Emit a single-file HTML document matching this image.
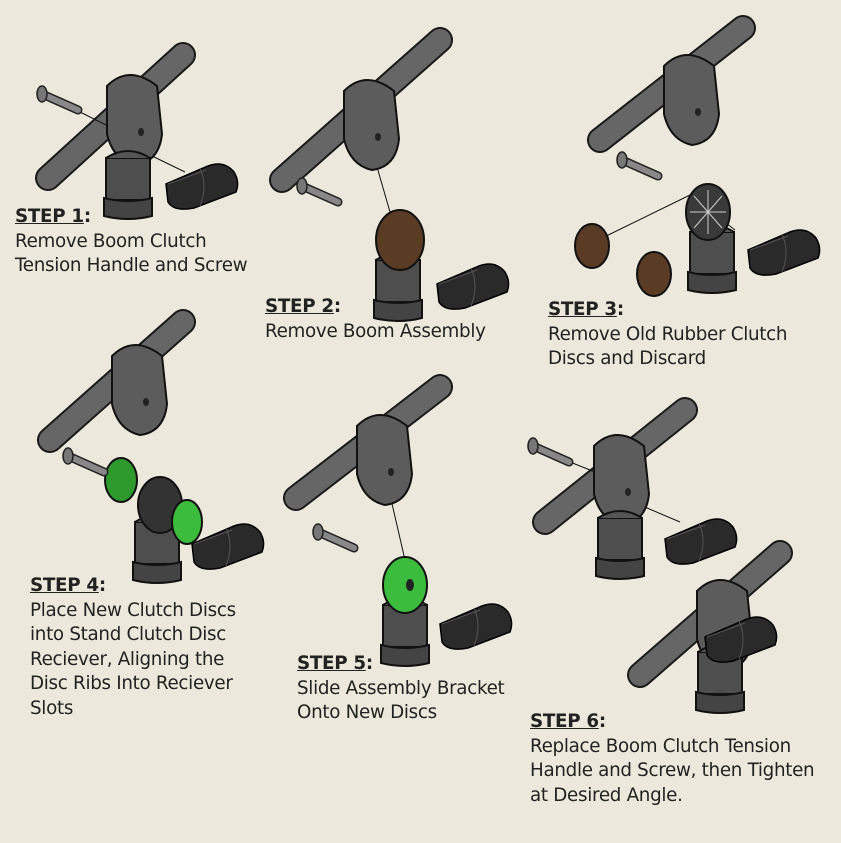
<!DOCTYPE html>
<html><head><style>
body{margin:0;background:#ECE9DC;}
#w{position:relative;width:841px;height:843px;overflow:hidden;background:#ECE9DC;font-family:"DejaVu Sans","Liberation Sans",sans-serif;font-size:18.3px;color:#222;}
.t{position:absolute;line-height:24.5px;white-space:nowrap;letter-spacing:-0.3px}
.t b{font-weight:bold}
.t u{text-decoration:underline}
svg{position:absolute;left:0;top:0}
</style></head><body><div id="w">
<svg width="841" height="843" viewBox="0 0 841 843">
<defs>
<g id="hnd"><path d="M0,22 L42,4 Q58,-2 68,10 Q74,20 70,30 L28,46 Q8,50 2,40 Z" fill="#2a2a2a" stroke="#000" stroke-width="1.5"/><path d="M34,6 Q42,24 34,44" fill="none" stroke="#555" stroke-width="1"/><path d="M2,22 L40,8" stroke="#555" stroke-width="1"/></g>
<g id="scr"><line x1="0" y1="0" x2="36" y2="16" stroke="#222" stroke-width="9" stroke-linecap="round"/><line x1="0" y1="0" x2="36" y2="16" stroke="#888" stroke-width="6" stroke-linecap="round"/><ellipse cx="0" cy="0" rx="5" ry="8" fill="#777" stroke="#222" stroke-width="1.5"/></g>
<g id="brk"><path d="M-28,-36 Q-6,-58 22,-36 L27,12 Q24,40 0,43 Q-22,38 -28,12 Z" fill="#5c5c5c" stroke="#111" stroke-width="2"/><ellipse cx="6" cy="10" rx="3" ry="4" fill="#222"/></g>
<g id="std"><path d="M-22,0 L-22,42 L22,42 L22,0 Z" fill="#4e4e4e" stroke="#111" stroke-width="2"/><path d="M-24,40 L-24,58 Q0,64 24,58 L24,40 Q0,46 -24,40Z" fill="#444" stroke="#111" stroke-width="2"/><path d="M-22,0 Q0,-14 22,0" fill="#555" stroke="#111" stroke-width="2"/></g>
</defs>
<g stroke-linecap="round">
<line x1="48" y1="178" x2="183" y2="55" stroke="#1a1a1a" stroke-width="26"/><line x1="48" y1="178" x2="183" y2="55" stroke="#666" stroke-width="22"/>
<line x1="282" y1="180" x2="440" y2="40" stroke="#1a1a1a" stroke-width="26"/><line x1="282" y1="180" x2="440" y2="40" stroke="#666" stroke-width="22"/>
<line x1="600" y1="140" x2="743" y2="28" stroke="#1a1a1a" stroke-width="26"/><line x1="600" y1="140" x2="743" y2="28" stroke="#666" stroke-width="22"/>
<line x1="50" y1="440" x2="183" y2="322" stroke="#1a1a1a" stroke-width="26"/><line x1="50" y1="440" x2="183" y2="322" stroke="#666" stroke-width="22"/>
<line x1="296" y1="498" x2="440" y2="387" stroke="#1a1a1a" stroke-width="26"/><line x1="296" y1="498" x2="440" y2="387" stroke="#666" stroke-width="22"/>
<line x1="545" y1="522" x2="685" y2="410" stroke="#1a1a1a" stroke-width="26"/><line x1="545" y1="522" x2="685" y2="410" stroke="#666" stroke-width="22"/>
<line x1="640" y1="675" x2="780" y2="553" stroke="#1a1a1a" stroke-width="26"/><line x1="640" y1="675" x2="780" y2="553" stroke="#666" stroke-width="22"/>
</g>
<g stroke="#111" stroke-width="1" fill="none">
<line x1="80" y1="112" x2="112" y2="128"/><line x1="150" y1="155" x2="185" y2="172"/>
<line x1="375" y1="160" x2="390" y2="212"/>
<polyline points="598,240 690,195 735,230"/>
<line x1="390" y1="495" x2="405" y2="560"/>
<line x1="570" y1="462" x2="610" y2="478"/><line x1="640" y1="505" x2="680" y2="522"/>
</g>
<!-- step1 -->
<use href="#brk" x="135" y="122"/><use href="#std" x="128" y="158"/><use href="#hnd" x="166" y="162"/><use href="#scr" x="42" y="94"/>
<!-- step2 -->
<use href="#brk" x="372" y="127"/><use href="#std" x="398" y="260"/>
<ellipse cx="400" cy="240" rx="24" ry="30" fill="#5a3b24" stroke="#111" stroke-width="2"/>
<use href="#hnd" x="437" y="262"/><use href="#scr" x="302" y="186"/>
<!-- step3 -->
<use href="#brk" x="692" y="102"/><use href="#std" x="712" y="232"/>
<ellipse cx="708" cy="212" rx="22" ry="28" fill="#3a3a3a" stroke="#111" stroke-width="2"/>
<g stroke="#ccc" stroke-width="1"><line x1="708" y1="190" x2="708" y2="234"/><line x1="690" y1="212" x2="726" y2="212"/><line x1="694" y1="196" x2="722" y2="228"/><line x1="722" y1="196" x2="694" y2="228"/></g>
<ellipse cx="592" cy="246" rx="17" ry="22" fill="#5a3b24" stroke="#111" stroke-width="2"/>
<ellipse cx="654" cy="274" rx="17" ry="22" fill="#5a3b24" stroke="#111" stroke-width="2"/>
<use href="#hnd" x="748" y="228"/><use href="#scr" x="622" y="160"/>
<!-- step4 -->
<use href="#brk" x="140" y="392"/><use href="#std" x="157" y="522"/>
<ellipse cx="160" cy="505" rx="22" ry="28" fill="#333" stroke="#111" stroke-width="2"/>
<ellipse cx="121" cy="480" rx="16" ry="22" fill="#2e9a2e" stroke="#111" stroke-width="2"/>
<ellipse cx="187" cy="522" rx="15" ry="22" fill="#3cbc3c" stroke="#111" stroke-width="2"/>
<use href="#hnd" x="192" y="522"/><use href="#scr" x="68" y="456"/>
<!-- step5 -->
<use href="#brk" x="385" y="462"/><use href="#std" x="405" y="605"/>
<ellipse cx="405" cy="585" rx="22" ry="28" fill="#3cbc3c" stroke="#111" stroke-width="2"/>
<ellipse cx="410" cy="585" rx="4" ry="6" fill="#222"/>
<use href="#hnd" x="440" y="602"/><use href="#scr" x="318" y="532"/>
<!-- step6 -->
<use href="#brk" x="622" y="482"/><use href="#std" x="620" y="518"/><use href="#hnd" x="665" y="517"/><use href="#scr" x="533" y="446"/>
<use href="#brk" x="725" y="627"/><use href="#std" x="720" y="652"/><use href="#hnd" x="705" y="615"/>
</svg>
<div class="t" style="left:15px;top:205px"><b><u>STEP 1</u>:</b><br>Remove Boom Clutch<br>Tension Handle and Screw</div>
<div class="t" style="left:265px;top:295px"><b><u>STEP 2</u>:</b><br>Remove Boom Assembly</div>
<div class="t" style="left:548px;top:298px"><b><u>STEP 3</u>:</b><br>Remove Old Rubber Clutch<br>Discs and Discard</div>
<div class="t" style="left:30px;top:574px"><b><u>STEP 4</u>:</b><br>Place New Clutch Discs<br>into Stand Clutch Disc<br>Reciever, Aligning the<br>Disc Ribs Into Reciever<br>Slots</div>
<div class="t" style="left:297px;top:652px"><b><u>STEP 5</u>:</b><br>Slide Assembly Bracket<br>Onto New Discs</div>
<div class="t" style="left:530px;top:710px"><b><u>STEP 6</u>:</b><br>Replace Boom Clutch Tension<br>Handle and Screw, then Tighten<br>at Desired Angle.</div>
</div></body></html>
